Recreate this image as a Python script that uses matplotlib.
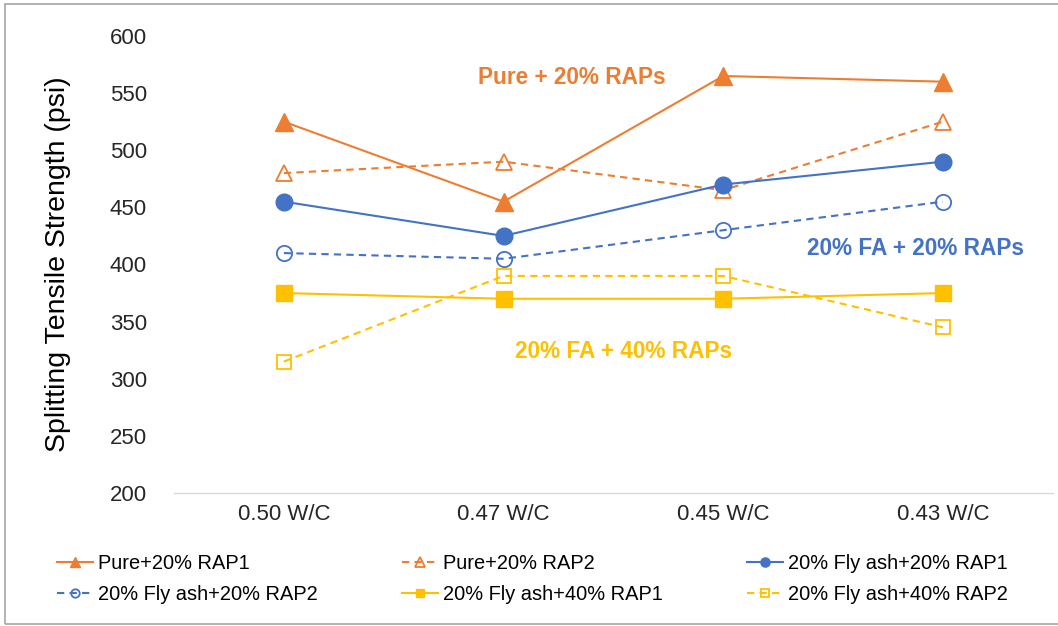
import matplotlib.pyplot as plt
from matplotlib.patches import Rectangle

plt.rcParams['font.family'] = ['Liberation Sans', 'DejaVu Sans']

relaciones = ['0.50 W/C', '0.47 W/C', '0.45 W/C', '0.43 W/C']

pura_rap1 = [525, 455, 565, 560]
pura_rap2 = [480, 490, 465, 525]
fa20_rap1 = [455, 425, 470, 490]
fa20_rap2 = [410, 405, 430, 455]
fa40_rap1 = [375, 370, 370, 375]
fa40_rap2 = [315, 390, 390, 345]

naranja = '#ED7D31'
azul = '#4472C4'
amarillo = '#FFC000'

series = [
    ('Pure+20% RAP1', pura_rap1, naranja, '-', '^', True),
    ('Pure+20% RAP2', pura_rap2, naranja, '--', '^', False),
    ('20% Fly ash+20% RAP1', fa20_rap1, azul, '-', 'o', True),
    ('20% Fly ash+20% RAP2', fa20_rap2, azul, '--', 'o', False),
    ('20% Fly ash+40% RAP1', fa40_rap1, amarillo, '-', 's', True),
    ('20% Fly ash+40% RAP2', fa40_rap2, amarillo, '--', 's', False),
]

tamanos = {'^': 13, 'o': 12, 's': 11}

fig = plt.figure(figsize=(10.58, 6.26), dpi=100)
ax = fig.add_axes([0.1645, 0.2125, 0.8305, 0.73])

xs = list(range(len(relaciones)))
for nombre, valores, color, estilo, marca, lleno in series:
    ms = tamanos[marca] if lleno else tamanos[marca] - 1
    linea, = ax.plot(xs, valores, color=color, linestyle=estilo, linewidth=1.5,
                     marker=marca, markersize=ms,
                     markerfacecolor=color if lleno else 'none',
                     markeredgecolor=color, markeredgewidth=1.3 if not lleno else 1,
                     label=nombre)
    if estilo == '--':
        linea.set_dashes((3.5, 2.5))

ax.set_xlim(-0.5, 3.5)
ax.set_ylim(200, 600)
ax.set_yticks(range(200, 601, 50))
ax.set_xticks(xs)
ax.set_xticklabels(relaciones)
ax.tick_params(axis='both', length=0, labelsize=16, colors='#262626')
ax.tick_params(axis='y', pad=19.5)
ax.tick_params(axis='x', pad=8)
for lado in ['top', 'right', 'left']:
    ax.spines[lado].set_visible(False)
ax.spines['bottom'].set_color('#d9d9d9')
ax.spines['bottom'].set_linewidth(1)
ax.set_ylabel('Splitting Tensile Strength (psi)', fontsize=20.5, color='black')
ax.yaxis.set_label_coords(-0.117, 0.5)

ax.text(1.31, 564, 'Pure + 20% RAPs', color=naranja, fontsize=16.3, fontweight='bold',
        ha='center', va='center')
ax.text(2.873, 413.6, '20% FA + 20% RAPs', color=azul, fontsize=16.3, fontweight='bold',
        ha='center', va='center')
ax.text(1.545, 323.4, '20% FA + 40% RAPs', color=amarillo, fontsize=16.3, fontweight='bold',
        ha='center', va='center')

handles, labels = ax.get_legend_handles_labels()
orden = [0, 3, 1, 4, 2, 5]
leg = fig.legend([handles[i] for i in orden], [labels[i] for i in orden],
                 ncol=3, loc='center left', bbox_to_anchor=(57 / 1058, 1 - 579 / 626),
                 frameon=False, fontsize=14.4, handlelength=1.8, borderpad=0,
                 borderaxespad=0, handletextpad=0.25, markerscale=0.55,
                 labelspacing=0.6, columnspacing=4.2)

fig.patches.append(Rectangle((5 / 1058, 2 / 626), 1.2, 620 / 626,
                             transform=fig.transFigure, fill=False,
                             edgecolor='#a6a6a6', linewidth=1.2))

fig.savefig('out.png', dpi=100)
